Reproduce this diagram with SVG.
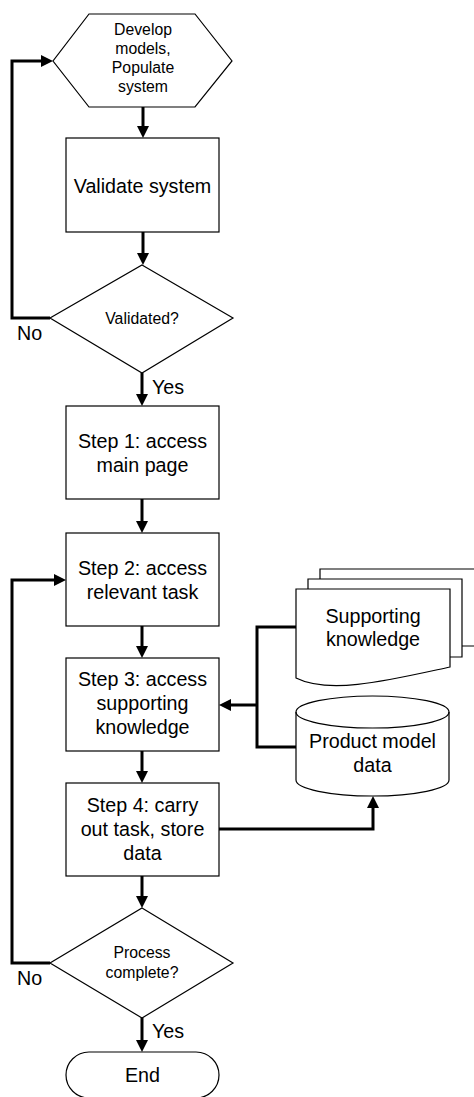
<svg xmlns="http://www.w3.org/2000/svg" width="474" height="1097" viewBox="0 0 474 1097">
<style>
.shape{fill:#fff;stroke:#000;stroke-width:1.2}
.open{fill:none;stroke:#000;stroke-width:1.2}
.conn{fill:none;stroke:#000;stroke-width:3}
text{font-family:"Liberation Sans",Arial,sans-serif;fill:#000;text-anchor:middle}
.big{font-size:19.7px}
.small{font-size:15.8px}
.lbl{text-anchor:start}
</style>
<defs>
<marker id="arr" markerUnits="userSpaceOnUse" markerWidth="12" markerHeight="12" refX="0" refY="6" orient="auto" viewBox="0 0 12 12">
<path d="M0,0 L12,6 L0,12 Z" fill="#000"/>
</marker>
</defs>
<rect width="474" height="1097" fill="#fff"/>

<g id="connectors">
<path class="conn" d="M143,107 V126" marker-end="url(#arr)"/>
<path class="conn" d="M143,232 V253" marker-end="url(#arr)"/>
<path class="conn" d="M142,373 V394" marker-end="url(#arr)"/>
<path class="conn" d="M142,499 V521" marker-end="url(#arr)"/>
<path class="conn" d="M142,626 V646" marker-end="url(#arr)"/>
<path class="conn" d="M142,751 V771" marker-end="url(#arr)"/>
<path class="conn" d="M142,876 V896" marker-end="url(#arr)"/>
<path class="conn" d="M142,1018 V1040" marker-end="url(#arr)"/>
<path class="conn" d="M50,318 H12 V61 H41" marker-end="url(#arr)"/>
<path class="conn" d="M50,963 H12 V580 H54" marker-end="url(#arr)"/>
<path class="conn" d="M296,627 H257 V747 H296"/>
<path class="conn" d="M257,705 H231" marker-end="url(#arr)"/>
<path class="conn" d="M219,829 H373 V808" marker-end="url(#arr)"/>
<text class="big lbl" x="17" y="340">No</text>
<text class="big lbl" x="17" y="985">No</text>
<text class="big lbl" x="152" y="394">Yes</text>
<text class="big lbl" x="152" y="1038">Yes</text>
</g>

<g id="develop">
<polygon class="shape" points="89,14 195,14 232,61 195,107 89,107 53,61"/>
<text class="small" x="143" y="35">Develop</text>
<text class="small" x="143" y="54">models,</text>
<text class="small" x="143" y="73">Populate</text>
<text class="small" x="143" y="92">system</text>
</g>

<g id="validate">
<rect class="shape" x="66" y="138" width="153" height="94"/>
<text class="big" x="142.5" y="193">Validate system</text>
</g>

<g id="validated">
<polygon class="shape" points="142,265 233,318 142,373 50,318"/>
<text class="small" x="142" y="324">Validated?</text>
</g>

<g id="step1">
<rect class="shape" x="66" y="406" width="153" height="93"/>
<text class="big" x="142.5" y="448">Step 1: access</text>
<text class="big" x="142.5" y="471.5">main page</text>
</g>

<g id="step2">
<rect class="shape" x="66" y="533" width="153" height="93"/>
<text class="big" x="142.5" y="575">Step 2: access</text>
<text class="big" x="142.5" y="598.5">relevant task</text>
</g>

<g id="step3">
<rect class="shape" x="66" y="658" width="153" height="93"/>
<text class="big" x="142.5" y="686">Step 3: access</text>
<text class="big" x="142.5" y="710">supporting</text>
<text class="big" x="142.5" y="734">knowledge</text>
</g>

<g id="step4">
<rect class="shape" x="66" y="783" width="153" height="93"/>
<text class="big" x="142.5" y="812">Step 4: carry</text>
<text class="big" x="142.5" y="836">out task, store</text>
<text class="big" x="142.5" y="860">data</text>
</g>

<g id="complete">
<polygon class="shape" points="142,908 233,963 142,1018 50,963"/>
<text class="small" x="142" y="958">Process</text>
<text class="small" x="142" y="978">complete?</text>
</g>

<g id="end">
<path class="shape" d="M89,1052 H196 A23,23 0 0 1 196,1098 H89 A23,23 0 0 1 89,1052 Z"/>
<text class="big" x="142.5" y="1082">End</text>
</g>

<g id="supporting">
<path class="open" d="M320,579 V569 H480 M462,646 H480"/>
<path class="open" d="M308,589 V579 H462 V657 H450"/>
<path class="shape" d="M296,589 H450 V667 C390,680 330,695 296,678 Z"/>
<text class="big" x="373" y="623">Supporting</text>
<text class="big" x="373" y="646">knowledge</text>
</g>

<g id="product">
<path class="shape" d="M296,712 A76.5,16 0 0 1 449,712 V780 A76.5,16 0 0 1 296,780 Z"/>
<path class="open" d="M296,712 A76.5,16 0 0 0 449,712"/>
<text class="big" x="372.5" y="748">Product model</text>
<text class="big" x="372.5" y="772">data</text>
</g>
</svg>
